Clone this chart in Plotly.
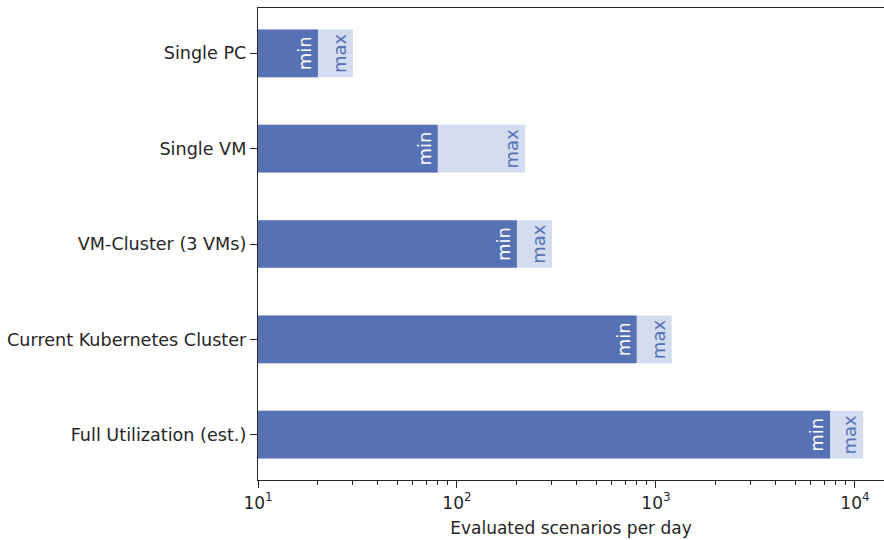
import plotly.graph_objects as go

categories = ["Single PC", "Single VM", "VM-Cluster (3 VMs)", "Current Kubernetes Cluster", "Full Utilization (est.)"]
min_values = [20, 80, 200, 800, 7500]
max_values = [30, 220, 300, 1200, 11000]
major_ticks = [10, 100, 1000, 10000]
major_labels = ["10<sup>1</sup>", "10<sup>2</sup>", "10<sup>3</sup>", "10<sup>4</sup>"]
minor_ticks = [m * d for d in (10, 100, 1000) for m in range(2, 10)]

DARK = "#5672b5"
LIGHT = "#d4dcf0"
TXT = "#262626"
FONT = "DejaVu Sans"
FS = 17

fig = go.Figure()
fig.add_trace(go.Bar(
    y=categories, x=max_values, orientation="h", width=0.5,
    marker=dict(color=LIGHT, line=dict(width=0)),
    text=["max"] * len(categories), textposition="inside",
    insidetextanchor="end", textangle=-90,
    textfont=dict(color=DARK, size=18, family=FONT),
    showlegend=False,
))
fig.add_trace(go.Bar(
    y=categories, x=min_values, orientation="h", width=0.5,
    marker=dict(color=DARK, line=dict(width=0)),
    text=["min"] * len(categories), textposition="inside",
    insidetextanchor="end", textangle=-90,
    textfont=dict(color="white", size=18, family=FONT),
    showlegend=False,
))

fig.update_layout(
    barmode="overlay",
    width=884, height=540,
    margin=dict(l=258, r=0, t=8, b=60),
    paper_bgcolor="white", plot_bgcolor="white",
    font=dict(family=FONT, size=FS, color=TXT),
    uniformtext=dict(minsize=17, mode="show"),
)
fig.update_xaxes(
    type="log", range=[1, 4.146],
    tickmode="array", tickvals=major_ticks, ticktext=major_labels,
    ticks="outside", ticklen=7, tickwidth=1.2, tickcolor=TXT,
    showgrid=False, zeroline=False,
    showline=True, linecolor=TXT, linewidth=1.3, mirror=True,
    tickfont=dict(size=FS, color=TXT),
    minor=dict(tickmode="array", tickvals=minor_ticks, ticks="outside",
               ticklen=4, tickwidth=1, tickcolor=TXT, showgrid=False),
    title=dict(text="Evaluated scenarios per day", font=dict(size=FS, color=TXT), standoff=10),
)
fig.update_yaxes(
    type="category", categoryorder="array", categoryarray=categories,
    range=[4.475, -0.475],
    ticks="outside", ticklen=7, tickwidth=1.2, tickcolor=TXT,
    showgrid=False, zeroline=False,
    showline=True, linecolor=TXT, linewidth=1.3,
    tickfont=dict(size=17.6, color=TXT),
)

fig.write_html("out.html")
